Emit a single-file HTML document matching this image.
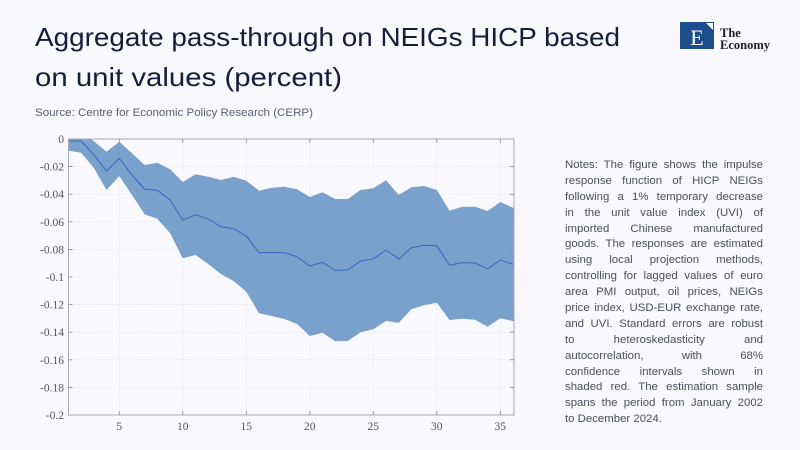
<!DOCTYPE html>
<html><head><meta charset="utf-8">
<style>
html,body{margin:0;padding:0;background:#f8f8fd;}
body{width:800px;height:450px;position:relative;overflow:hidden;font-family:"Liberation Sans",sans-serif;}
#notes{position:absolute;left:565px;top:158px;width:198px;font-size:11.4px;color:#4a4f5e;}
#notes div{height:15.9px;line-height:15.9px;text-align:justify;text-align-last:justify;white-space:nowrap;}
#notes div.last{text-align-last:left;}
</style></head><body>
<svg width="800" height="450" style="position:absolute;left:0;top:0">
<text x="35" y="46" font-family="Liberation Sans, sans-serif" font-size="26" fill="#141d3c" textLength="585" lengthAdjust="spacingAndGlyphs">Aggregate pass-through on NEIGs HICP based</text>
<text x="35" y="86" font-family="Liberation Sans, sans-serif" font-size="26" fill="#141d3c" textLength="307" lengthAdjust="spacingAndGlyphs">on unit values (percent)</text>
<text x="35" y="116" font-family="Liberation Sans, sans-serif" font-size="11" fill="#596070" textLength="278" lengthAdjust="spacingAndGlyphs">Source: Centre for Economic Policy Research (CERP)</text>
<!-- logo -->
<rect x="680" y="22" width="34" height="27" fill="#1c4d8c"/>
<text x="697" y="45" font-family="Liberation Serif, serif" font-size="22" fill="#fff" text-anchor="middle">E</text>
<polygon points="706,23 713,23 713,30" fill="#fff"/>
<text x="720" y="37" font-family="Liberation Serif, serif" font-size="12.5" font-weight="bold" fill="#222">The</text>
<text x="720" y="49" font-family="Liberation Serif, serif" font-size="12.5" font-weight="bold" fill="#222">Economy</text>
<defs><clipPath id="pc"><rect x="68.5" y="139" width="445.5" height="276"/></clipPath></defs>
<!-- grid -->
<g stroke="#d8d8e0" stroke-width="0.6" stroke-dasharray="1,1.5">
<line x1="119.3" y1="139" x2="119.3" y2="415"/>
<line x1="182.8" y1="139" x2="182.8" y2="415"/>
<line x1="246.3" y1="139" x2="246.3" y2="415"/>
<line x1="309.8" y1="139" x2="309.8" y2="415"/>
<line x1="373.3" y1="139" x2="373.3" y2="415"/>
<line x1="436.8" y1="139" x2="436.8" y2="415"/>
<line x1="500.3" y1="139" x2="500.3" y2="415"/>
<line x1="68.5" y1="166.6" x2="514" y2="166.6"/>
<line x1="68.5" y1="194.2" x2="514" y2="194.2"/>
<line x1="68.5" y1="221.8" x2="514" y2="221.8"/>
<line x1="68.5" y1="249.4" x2="514" y2="249.4"/>
<line x1="68.5" y1="277" x2="514" y2="277"/>
<line x1="68.5" y1="304.6" x2="514" y2="304.6"/>
<line x1="68.5" y1="332.2" x2="514" y2="332.2"/>
<line x1="68.5" y1="359.8" x2="514" y2="359.8"/>
<line x1="68.5" y1="387.4" x2="514" y2="387.4"/>
</g>
<g clip-path="url(#pc)">
<polygon fill="#5a8abf" fill-opacity="0.8" points="68.5,134 81.2,130 93.9,141.4 106.6,151.7 119.3,141.7 132,153.3 144.7,165 157.4,162.7 170.1,169.3 182.8,182 195.5,174.3 208.2,176.7 220.9,180 233.6,176.7 246.3,180.7 259,190.7 271.7,187.7 284.4,186.7 297.1,189.3 309.8,197 322.5,192.3 335.2,199 347.9,199 360.6,190 373.3,188.3 386,180.3 398.7,195 411.4,187.3 424.1,186 436.8,190 449.5,210.7 462.2,206.7 474.9,206.7 487.6,211 500.3,202 513,207.7 514,208 514,321 513,321 500.3,318.3 487.6,326.7 474.9,319.7 462.2,318.7 449.5,320 436.8,302.7 424.1,305.3 411.4,309.3 398.7,322.7 386,321 373.3,329.3 360.6,332.3 347.9,341 335.2,341.3 322.5,332.7 309.8,336 297.1,324 284.4,319 271.7,316 259,313.3 246.3,291.7 233.6,281 220.9,274 208.2,264 195.5,255 182.8,258.3 170.1,233.3 157.4,218.7 144.7,214.3 132,195 119.3,176 106.6,190 93.9,168 81.2,152.7 68.5,150.7"/>
<polyline fill="none" stroke="#3a6cc4" stroke-width="1.1" points="68.5,141 81.2,141 93.9,155 106.6,171 119.3,158.3 132,175 144.7,189.3 157.4,190.3 170.1,200 182.8,220 195.5,214.7 208.2,219 220.9,226.7 233.6,228.7 246.3,236 259,252.7 271.7,252.3 284.4,252.7 297.1,256.7 309.8,266 322.5,262.3 335.2,270.3 347.9,270 360.6,261 373.3,259 386,250 398.7,259 411.4,247.7 424.1,245.3 436.8,245.7 449.5,265.3 462.2,262.7 474.9,263 487.6,269 500.3,260 513,264.3"/>
</g>
<!-- axes box -->
<rect x="68.5" y="139" width="445.5" height="276" fill="none" stroke="#a8a8b0" stroke-width="1"/>
<g stroke="#888" stroke-width="0.8">
<line x1="119.3" y1="415" x2="119.3" y2="411"/><line x1="182.8" y1="415" x2="182.8" y2="411"/><line x1="246.3" y1="415" x2="246.3" y2="411"/><line x1="309.8" y1="415" x2="309.8" y2="411"/><line x1="373.3" y1="415" x2="373.3" y2="411"/><line x1="436.8" y1="415" x2="436.8" y2="411"/><line x1="500.3" y1="415" x2="500.3" y2="411"/>
<line x1="119.3" y1="139" x2="119.3" y2="143"/><line x1="182.8" y1="139" x2="182.8" y2="143"/><line x1="246.3" y1="139" x2="246.3" y2="143"/><line x1="309.8" y1="139" x2="309.8" y2="143"/><line x1="373.3" y1="139" x2="373.3" y2="143"/><line x1="436.8" y1="139" x2="436.8" y2="143"/><line x1="500.3" y1="139" x2="500.3" y2="143"/>
<line x1="68.5" y1="166.6" x2="72.5" y2="166.6"/><line x1="68.5" y1="194.2" x2="72.5" y2="194.2"/><line x1="68.5" y1="221.8" x2="72.5" y2="221.8"/><line x1="68.5" y1="249.4" x2="72.5" y2="249.4"/><line x1="68.5" y1="277" x2="72.5" y2="277"/><line x1="68.5" y1="304.6" x2="72.5" y2="304.6"/><line x1="68.5" y1="332.2" x2="72.5" y2="332.2"/><line x1="68.5" y1="359.8" x2="72.5" y2="359.8"/><line x1="68.5" y1="387.4" x2="72.5" y2="387.4"/>
<line x1="514" y1="166.6" x2="510" y2="166.6"/><line x1="514" y1="194.2" x2="510" y2="194.2"/><line x1="514" y1="221.8" x2="510" y2="221.8"/><line x1="514" y1="249.4" x2="510" y2="249.4"/><line x1="514" y1="277" x2="510" y2="277"/><line x1="514" y1="304.6" x2="510" y2="304.6"/><line x1="514" y1="332.2" x2="510" y2="332.2"/><line x1="514" y1="359.8" x2="510" y2="359.8"/><line x1="514" y1="387.4" x2="510" y2="387.4"/>
</g>
<g font-family="Liberation Serif, serif" font-size="11.5" fill="#555" text-anchor="end">
<text x="64" y="143">0</text>
<text x="64" y="170.6">-0.02</text>
<text x="64" y="198.2">-0.04</text>
<text x="64" y="225.8">-0.06</text>
<text x="64" y="253.4">-0.08</text>
<text x="64" y="281">-0.1</text>
<text x="64" y="308.6">-0.12</text>
<text x="64" y="336.2">-0.14</text>
<text x="64" y="363.8">-0.16</text>
<text x="64" y="391.4">-0.18</text>
<text x="64" y="419">-0.2</text>
</g>
<g font-family="Liberation Serif, serif" font-size="11.5" fill="#555" text-anchor="middle">
<text x="119.3" y="430">5</text>
<text x="182.8" y="430">10</text>
<text x="246.3" y="430">15</text>
<text x="309.8" y="430">20</text>
<text x="373.3" y="430">25</text>
<text x="436.8" y="430">30</text>
<text x="500.3" y="430">35</text>
</g>
</svg>
<div id="notes">
<div>Notes: The figure shows the impulse</div>
<div>response function of HICP NEIGs</div>
<div>following a 1% temporary decrease</div>
<div>in the unit value index (UVI) of</div>
<div>imported Chinese manufactured</div>
<div>goods. The responses are estimated</div>
<div>using local projection methods,</div>
<div>controlling for lagged values of euro</div>
<div>area PMI output, oil prices, NEIGs</div>
<div>price index, USD-EUR exchange rate,</div>
<div>and UVI. Standard errors are robust</div>
<div>to heteroskedasticity and</div>
<div>autocorrelation, with 68%</div>
<div>confidence intervals shown in</div>
<div>shaded red. The estimation sample</div>
<div>spans the period from January 2002</div>
<div class="last">to December 2024.</div>
</div>
</body></html>
